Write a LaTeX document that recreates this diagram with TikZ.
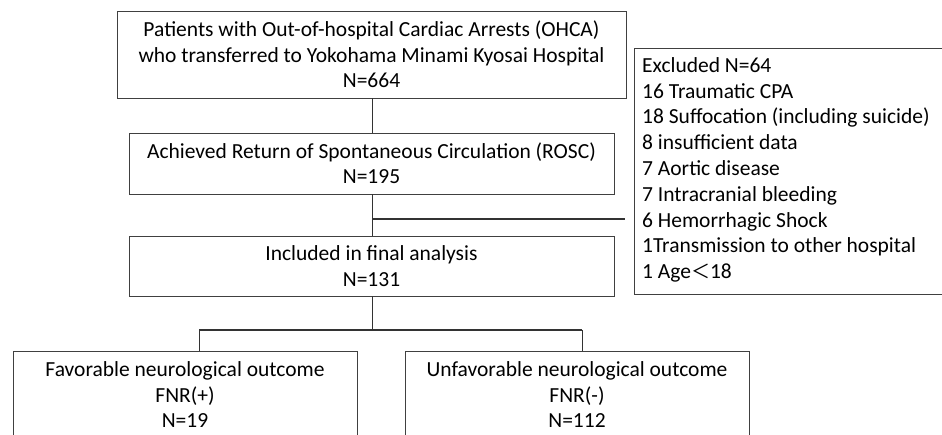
\documentclass[tikz,border=0pt]{standalone}
\usepackage{fontspec}
\setmainfont{Carlito}
\newfontfamily\cjkfont{Noto Sans CJK JP}
\begin{document}
\begin{tikzpicture}[x=1pt,y=1pt,
  box/.style={draw=black!75, line width=0.9pt, inner sep=0pt, align=center, font=\fontsize{21.5}{25.4}\selectfont},
  txt/.style={inner xsep=0pt, inner ysep=5pt, font=\fontsize{21.5}{25.4}\selectfont},
  conn/.style={draw=black!80, line width=1pt}]
\useasboundingbox (0,0) rectangle (942,-435);
\clip (0,0) rectangle (942,-435);
% boxes
\node[box, minimum width=509, minimum height=87] (top) at (371.5,-54.5)
  {Patients with Out-of-hospital Cardiac Arrests (OHCA)\\who transferred to Yokohama Minami Kyosai Hospital\\N=664};
\node[box, minimum width=485, minimum height=61] (rosc) at (371.5,-163.5)
  {Achieved Return of Spontaneous Circulation (ROSC)\\N=195};
\node[box, minimum width=485, minimum height=60] (incl) at (371.5,-266)
  {Included in final analysis\\N=131};
\node[box, anchor=north west, minimum width=340, minimum height=246] (exclbox) at (634,-48) {};
\node[txt, anchor=north west, inner ysep=6pt, font=\fontsize{21.5}{25.8}\selectfont] (excl) at (642,-48)
  {\begin{tabular}[t]{@{}l@{}}Excluded N=64\\16 Traumatic CPA\\18 Suffocation (including suicide)\\8 insufficient data\\7 Aortic disease\\7 Intracranial bleeding\\6 Hemorrhagic Shock\\1Transmission to other hospital\\1 Age{\cjkfont\fontsize{19}{20}\selectfont ＜}18\end{tabular}};
\node[box, anchor=north, minimum width=344, minimum height=100] (favbox) at (185,-351) {};
\node[txt, anchor=north, inner ysep=8pt] (fav) at (favbox.north)
  {\begin{tabular}[t]{@{}c@{}}Favorable neurological outcome\\FNR(+)\\N=19\end{tabular}};
\node[box, anchor=north, minimum width=344, minimum height=100] (unfavbox) at (577,-351) {};
\node[txt, anchor=north, inner ysep=8pt] (unfav) at (unfavbox.north)
  {\begin{tabular}[t]{@{}c@{}}Unfavorable neurological outcome\\FNR(-)\\N=112\end{tabular}};
% connectors
\coordinate (br) at (372,-219);
\coordinate (brend) at (625,-219);
\coordinate (split) at (372,-330);
\coordinate (sl) at (199,-330);
\coordinate (sr) at (582,-330);
\draw[conn] (top.south -| br) -- (rosc.north -| br);
\draw[conn] (rosc.south -| br) -- (incl.north -| br);
\draw[conn, line width=1.3pt] (br) -- (brend);
\draw[conn] (incl.south -| split) -- (split);
\draw[conn, line width=1.3pt] (sl) -- (sr);
\draw[conn] (sl) -- (sl |- favbox.north);
\draw[conn] (sr) -- (sr |- unfavbox.north);
\end{tikzpicture}
\end{document}
